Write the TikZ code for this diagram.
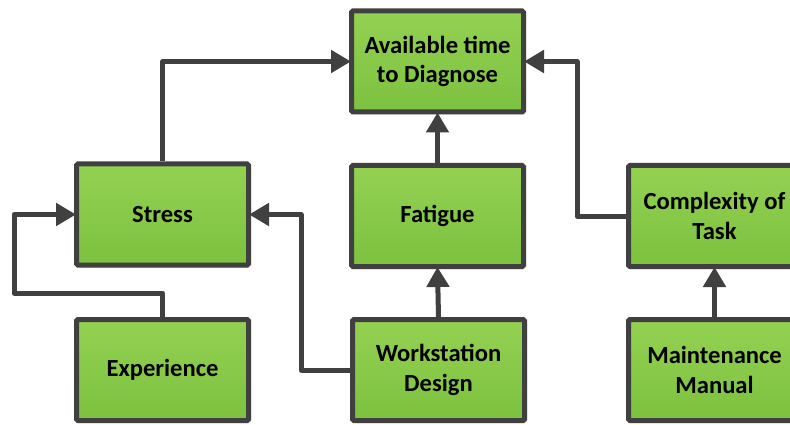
\documentclass[tikz,border=0pt]{standalone}
\usepackage{fontspec}
\setmainfont{Carlito}
\usetikzlibrary{arrows.meta,shadows}
\definecolor{edgec}{HTML}{404040}
\definecolor{gtop}{HTML}{94D152}
\definecolor{gbot}{HTML}{7CC13F}
\begin{document}
\begin{tikzpicture}[x=1pt,y=-1pt,
  box/.style={draw=edgec, line width=5pt, top color=gtop, bottom color=gbot,
    minimum width=172pt, minimum height=101pt, align=center, inner sep=0pt,
    rounded corners=1.5pt, text=black,
    font=\bfseries\fontsize{24.6}{29.5}\selectfont,
    drop shadow={shadow xshift=2.5pt, shadow yshift=-2.5pt, opacity=0.25, fill=gray}},
  conn/.style={draw=edgec, line width=5pt, line join=round,
    -{Triangle[length=20pt,width=22pt]}, shorten >=-2pt}]
\useasboundingbox (0,0) rectangle (790,425);
\node[box] (avail) at (437.5,61.5) {Available time\\to Diagnose};
\node[box] (stress) at (162.5,214.5) {Stress};
\node[box] (fatigue) at (437.5,216) {Fatigue};
\node[box] (comp) at (714.5,216) {Complexity of\\Task};
\node[box] (exp) at (162.5,370) {Experience};
\node[box] (work) at (438.5,370) {Workstation\\Design};
\node[box] (maint) at (714.5,370) {Maintenance\\Manual};
\coordinate (c1) at (14,293);
\coordinate (c2) at (301,214.5);
\coordinate (c3) at (577,216);
\draw[conn] (stress.north) |- (avail.west);
\draw[conn] (exp.north) |- (c1) |- (stress.west);
\draw[conn] (work.west) -| (c2) -- (stress.east);
\draw[conn] (work.north) -- (fatigue.south);
\draw[conn] (fatigue.north) -- (avail.south);
\draw[conn] (comp.west) -- (c3) |- (avail.east);
\draw[conn] (maint.north) -- (comp.south);
\end{tikzpicture}
\end{document}
